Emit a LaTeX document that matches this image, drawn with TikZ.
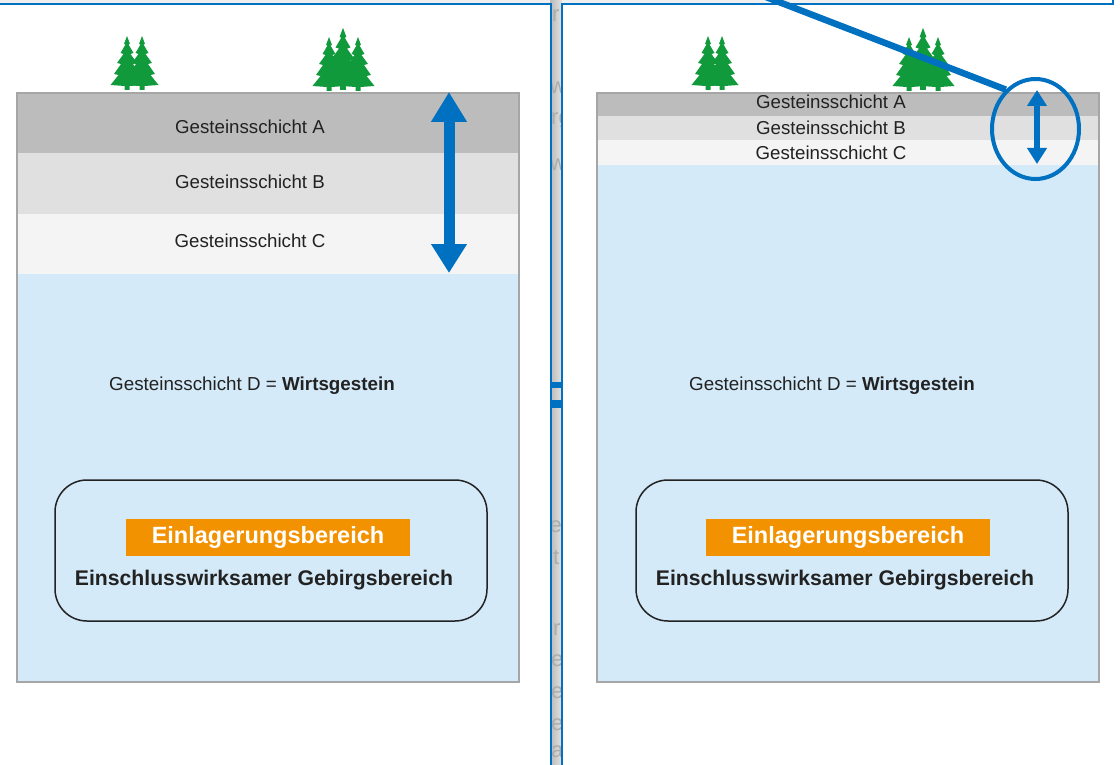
\documentclass[tikz,border=0pt]{standalone}
\usepackage{fontspec}
\setmainfont{Liberation Sans}
\usetikzlibrary{arrows.meta,shapes.geometric}

\definecolor{layerA}{HTML}{BCBCBC}
\definecolor{layerB}{HTML}{E0E0E0}
\definecolor{layerC}{HTML}{F4F4F4}
\definecolor{hostrock}{HTML}{D4EAF8}
\definecolor{frameblue}{HTML}{0070C0}
\definecolor{storeorange}{HTML}{F39200}
\definecolor{treegreen}{HTML}{119A3B}
\definecolor{inktext}{HTML}{222222}

\tikzset{
  pics/fir/.style={code={
    \fill[treegreen] (0,-54) -- (3,-46) -- (1.5,-45.5) -- (6.5,-37) -- (3.5,-36)
      -- (10,-27) -- (6,-26) -- (13,-16) -- (8.5,-15) -- (16.5,-5) -- (2.5,-4)
      -- (2.5,0) -- (-2.5,0) -- (-2.5,-4) -- (-16.5,-5) -- (-8.5,-15) -- (-13,-16)
      -- (-6,-26) -- (-10,-27) -- (-3.5,-36) -- (-6.5,-37) -- (-1.5,-45.5) -- (-3,-46) -- cycle;
  }},
  layertext/.style={font=\fontsize{18.7}{22}\selectfont, text=inktext, inner sep=0pt},
  hosttext/.style={font=\fontsize{18.8}{22}\selectfont, text=inktext, inner sep=0pt},
  storebox/.style={fill=storeorange, text=white, minimum width=284pt, minimum height=37pt,
    inner sep=0pt, font=\fontsize{23.5}{26}\bfseries\selectfont},
  rangebox/.style={draw=inktext, line width=1.5pt, rounded corners=32pt,
    minimum width=432pt, minimum height=141pt, inner sep=0pt},
  rangetext/.style={font=\fontsize{21.2}{24}\bfseries\selectfont, text=inktext, inner sep=0pt},
  winline/.style={draw=frameblue, line width=2pt},
  gapletter/.style={font=\fontsize{22}{24}\selectfont, text=gray!65, inner sep=0pt},
  rockedge/.style={draw=gray!70, line width=1.3pt},
}

\begin{document}
\begin{tikzpicture}[x=1pt,y=-1pt]
\useasboundingbox (0,0) rectangle (1120,765);
\fill[white] (0,0) rectangle (1120,765);

% window strip behind the two panes
\fill[gray!12] (0,0) rectangle (1000,4);
\shade[left color=gray!55, right color=gray!22] (550,0) rectangle (562,765);
\begin{scope}
  \clip (551,0) rectangle (561,765);
  \node[gapletter, anchor=west] (gr1) at (552,16) {r};
  \node[gapletter, anchor=west] (gw1) at (550,88) {w};
  \node[gapletter, anchor=west] (grg) at (551,121) {rg};
  \node[gapletter, anchor=west] (gw2) at (550,165) {w};
  \node[gapletter, anchor=east] (gte) at (562,525) {te};
  \node[gapletter, anchor=west] (gt)  at (553,557) {t};
  \node[gapletter, anchor=west] (gr2) at (553,630) {r};
  \node[gapletter, anchor=west] (ge1) at (551,661) {e};
  \node[gapletter, anchor=west] (ge2) at (551,693) {e};
  \node[gapletter, anchor=west] (ge3) at (551,725) {e};
  \node[gapletter, anchor=west] (ga)  at (551,752) {a};
\end{scope}
\fill[frameblue] (551,382) rectangle (561,388);
\fill[frameblue] (551,400) rectangle (561,408);

% ---------- left pane: thick overburden ----------
\fill[layerA] (17,93) rectangle (519,153);
\fill[layerB] (17,153) rectangle (519,214);
\fill[layerC] (17,214) rectangle (519,274);
\fill[hostrock] (17,274) rectangle (519,682);
\draw[rockedge] (17,93) rectangle (519,682);

\pic at (127,90) {fir};
\pic at (142,90) {fir};
\pic at (343,90) [scale=1.15] {fir};
\pic at (329,91) {fir};
\pic at (358,91) {fir};

\node[layertext] (LA) at (250,126.5) {Gesteinsschicht A};
\node[layertext] (LB) at (250,182) {Gesteinsschicht B};
\node[layertext] (LC) at (250,241) {Gesteinsschicht C};
\node[hosttext] (LD) at (252,386) {Gesteinsschicht D = \textbf{Wirtsgestein}};

\node[rangebox] (Lrange) at (271,550.5) {};
\node[storebox] (Lstore) at (268,537.5) {Einlagerungsbereich};
\node[rangetext] (Lrtext) at (264,580) {Einschlusswirksamer Gebirgsbereich};

\coordinate (Ltop) at (449,92);
\coordinate (Lbot) at (449,273);
\draw[frameblue, line width=11pt,
  {Triangle[width=34pt,length=30pt]}-{Triangle[width=34pt,length=29pt]}] (Ltop) -- (Lbot);

% ---------- right pane: thin overburden ----------
\fill[layerA] (597,93) rectangle (1099,116);
\fill[layerB] (597,116) rectangle (1099,140);
\fill[layerC] (597,140) rectangle (1099,165);
\fill[hostrock] (597,165) rectangle (1099,682);
\draw[rockedge] (597,93) rectangle (1099,682);

\pic at (708,90) {fir};
\pic at (722,90) {fir};
\pic at (923,90) [scale=1.15] {fir};
\pic at (909,91) {fir};
\pic at (938,91) {fir};

\node[layertext] (RA) at (831,102) {Gesteinsschicht A};
\node[layertext] (RB) at (831,128) {Gesteinsschicht B};
\node[layertext] (RC) at (831,153) {Gesteinsschicht C};
\node[hosttext] (RD) at (832,386) {Gesteinsschicht D = \textbf{Wirtsgestein}};

\node[rangebox] (Rrange) at (852,550.5) {};
\node[storebox] (Rstore) at (848,537.5) {Einlagerungsbereich};
\node[rangetext] (Rrtext) at (845,580) {Einschlusswirksamer Gebirgsbereich};

\coordinate (Rtop) at (1037,90);
\coordinate (Rbot) at (1037,164);
\draw[frameblue, line width=6pt,
  {Triangle[width=19pt,length=16pt]}-{Triangle[width=19pt,length=16pt]}] (Rtop) -- (Rbot);

% window frames
\draw[winline] (0,4) -- (551,4) -- (551,765);
\draw[winline] (562,765) -- (562,4) -- (1113,4) -- (1113,0);

% magnifier ring with its pointer
\node[ellipse, draw=frameblue, line width=4pt, minimum width=87pt, minimum height=100pt,
  inner sep=0pt] (lens) at (1035.5,129) {};
\coordinate (pointer) at (766,-3);
\draw[frameblue, line width=6.5pt] (pointer) -- (lens.127);
\end{tikzpicture}
\end{document}
